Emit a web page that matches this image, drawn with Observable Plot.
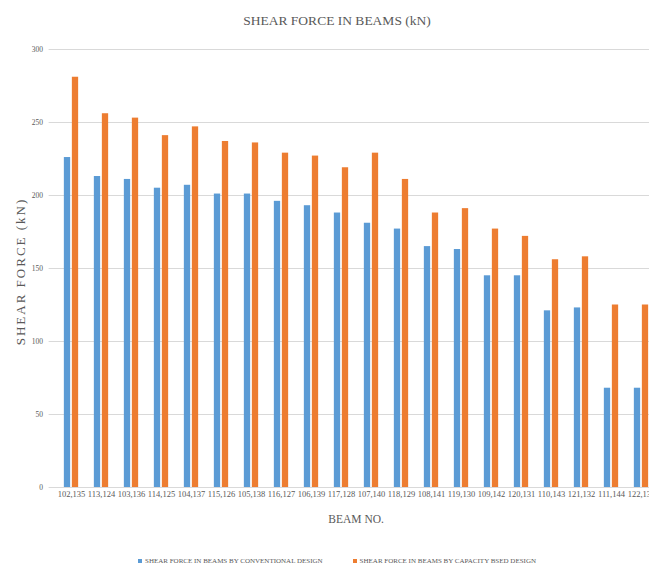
<!DOCTYPE html>
<html>
<head>
<meta charset="utf-8">
<script src="https://cdn.jsdelivr.net/npm/d3@7"></script>
<script src="https://cdn.jsdelivr.net/npm/@observablehq/plot@0.6"></script>
<style>
  html, body { margin: 0; padding: 0; background: #fff; }
  body { width: 649px; height: 566px; overflow: hidden; position: relative; font-family: "Liberation Serif", "DejaVu Serif", serif; }
  #title { width: 674px; height: 38px; box-sizing: border-box; padding-top: 13px; line-height: 16px; text-align: center; font-size: 13.5px; color: #595959; }
  #chart { width: 665px; height: 502px; }
  #chart svg { display: block; overflow: hidden; max-width: none !important; width: 665px !important; height: 502px !important; }
  #legend { width: 674px; height: 26px; box-sizing: border-box; padding-top: 15px; display: flex; justify-content: center; gap: 30px; font-size: 7px; color: #595959; line-height: 8px; }
  #legend .item { display: flex; align-items: center; gap: 3px; white-space: nowrap; }
  #legend .sw { width: 4px; height: 4px; display: inline-block; }
</style>
</head>
<body>
<div id="title">SHEAR FORCE IN BEAMS (kN)</div>
<div id="chart"></div>
<div id="legend"></div>
<script>
const beams = ["102,135","113,124","103,136","114,125","104,137","115,126","105,138","116,127","106,139","117,128","107,140","118,129","108,141","119,130","109,142","120,131","110,143","121,132","111,144","122,133"];
const conventional = [226, 213, 211, 205, 207, 201, 201, 196, 193, 188, 181, 177, 165, 163, 145, 145, 121, 123, 68, 68];
const capacityBased = [281, 256, 253, 241, 247, 237, 236, 229, 227, 219, 229, 211, 188, 191, 177, 172, 156, 158, 125, 125];
const seriesNames = ["SHEAR FORCE IN BEAMS BY CONVENTIONAL DESIGN", "SHEAR FORCE IN BEAMS BY CAPACITY BSED DESIGN"];
const seriesColors = ["#5B9BD5", "#ED7D31"];
const yTicks = [0, 50, 100, 150, 200, 250, 300];

const rows = beams.map((b, i) => ({beam: b, conv: conventional[i], cap: capacityBased[i]}));

const chart = Plot.plot({
  width: 665,
  height: 502,
  marginLeft: 48.6,
  marginRight: 2.4,
  marginTop: 11,
  marginBottom: 53,
  style: {fontFamily: "Liberation Serif", color: "#595959", background: "#fff"},
  x: {domain: beams, padding: 0, axis: null},
  y: {domain: [0, 300], axis: null},
  marks: [
    Plot.ruleY(yTicks, {stroke: "#d9d9d9", strokeWidth: 1}),
    Plot.barY(rows, {x: "beam", y: "conv", fill: seriesColors[0], insetLeft: 7.85, insetRight: 15.85}),
    Plot.barY(rows, {x: "beam", y: "cap", fill: seriesColors[1], insetLeft: 15.85, insetRight: 7.85}),
    Plot.axisX({tickSize: 0, tickPadding: 3, fontSize: 8.5, label: null, fill: "#595959"}),
    Plot.axisY({ticks: yTicks, tickSize: 0, tickPadding: 6, fontSize: 7.5, label: null, fill: "#595959"}),
    Plot.text(["BEAM NO."], {frameAnchor: "bottom", dy: 35, fontSize: 11.5, fill: "#595959"}),
    Plot.text(["SHEAR FORCE (kN)"], {frameAnchor: "left", textAnchor: "middle", dx: -28.6, dy: 3, rotate: -90, fontSize: 13, fill: "#595959"})
  ]
});
document.getElementById("chart").appendChild(chart);
d3.select(chart).selectAll("text").filter(function() { return this.textContent === "SHEAR FORCE (kN)"; }).style("letter-spacing", "2px");

const legend = document.getElementById("legend");
seriesNames.forEach((name, i) => {
  const item = document.createElement("div");
  item.className = "item";
  const sw = document.createElement("span");
  sw.className = "sw";
  sw.style.background = seriesColors[i];
  const t = document.createElement("span");
  t.textContent = name;
  item.appendChild(sw);
  item.appendChild(t);
  legend.appendChild(item);
});
</script>
</body>
</html>
